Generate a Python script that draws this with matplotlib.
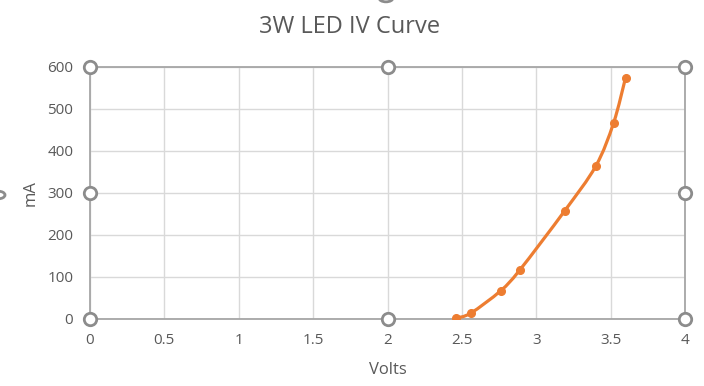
import matplotlib
matplotlib.use("Agg")
import matplotlib.pyplot as plt
from matplotlib.path import Path
from matplotlib.patches import PathPatch
import numpy as np

volts = [2.46, 2.56, 2.76, 2.89, 3.19, 3.40, 3.52, 3.60]
milliamps = [2, 14, 67, 117, 257, 364, 467, 574]
x_ticks = [0, 0.5, 1, 1.5, 2, 2.5, 3, 3.5, 4]
x_tick_labels = ["0", "0.5", "1", "1.5", "2", "2.5", "3", "3.5", "4"]
y_ticks = [0, 100, 200, 300, 400, 500, 600]

plt.rcParams['font.family'] = ['Open Sans', 'DejaVu Sans']
W, H = 704, 386
fig = plt.figure(figsize=(W / 100, H / 100), dpi=100)
ax = fig.add_axes([90 / W, 1 - 319 / H, (685 - 90) / W, (319 - 67) / H])
ax.set_xlim(0, 4)
ax.set_ylim(0, 600)

grid_c = "#d9d9d9"
text_c = "#595959"
ax.set_xticks(x_ticks)
ax.set_xticklabels(x_tick_labels)
ax.set_yticks(y_ticks)
ax.grid(True, color=grid_c, linewidth=1)
ax.set_axisbelow(True)
ax.tick_params(length=0, labelsize=11, colors=text_c)
ax.tick_params(axis='x', pad=10)
ax.tick_params(axis='y', pad=12)
for s in ax.spines.values():
    s.set_color("#a6a6a6")
    s.set_linewidth(1.3)

# Smoothed line (Catmull-Rom style, like Excel's smoothed line) via Bezier path
pts = np.column_stack([volts, milliamps])
verts = [tuple(pts[0])]
codes = [Path.MOVETO]
n = len(pts)
for i in range(n - 1):
    p0 = pts[i - 1] if i > 0 else pts[i]
    p1 = pts[i]
    p2 = pts[i + 1]
    p3 = pts[i + 2] if i + 2 < n else pts[i + 1]
    c1 = p1 + (p2 - p0) / 6.0
    c2 = p2 - (p3 - p1) / 6.0
    verts += [tuple(c1), tuple(c2), tuple(p2)]
    codes += [Path.CURVE4] * 3
ax.add_patch(PathPatch(Path(verts, codes), facecolor="none", edgecolor="#ED7D31",
                       linewidth=2.3, capstyle="round", zorder=3))
ax.plot(volts, milliamps, linestyle="none", marker="o", markersize=5.5,
        color="#ED7D31", zorder=4)

fig.text(350 / W, 1 - 33 / H, "3W LED IV Curve", fontsize=17, color=text_c,
         ha="center", va="baseline")
fig.text(388 / W, 1 - 374 / H, "Volts", fontsize=12, color=text_c,
         ha="center", va="baseline")
fig.text(31 / W, 1 - 193 / H, "mA", fontsize=12, color=text_c,
         ha="center", va="center", rotation=90)

# selection handles
hx = [0, 0.5, 1, 0, 1, 0, 0.5, 1]
hy = [1, 1, 1, 0.5, 0.5, 0, 0, 0]
ax.scatter(hx, hy, s=80, facecolor="white", edgecolor="#8c8c8c", linewidth=2,
           transform=ax.transAxes, clip_on=False, zorder=6)
fig.patches.append(plt.Circle((386 / W, 1 + 2 / H), 7 / W, transform=fig.transFigure,
                              facecolor="white", edgecolor="#8c8c8c", linewidth=2))
fig.patches.append(plt.Circle((-2 / W, 1 - 195 / H), 7 / W, transform=fig.transFigure,
                              facecolor="white", edgecolor="#8c8c8c", linewidth=2))

fig.savefig("out.png", dpi=100)
